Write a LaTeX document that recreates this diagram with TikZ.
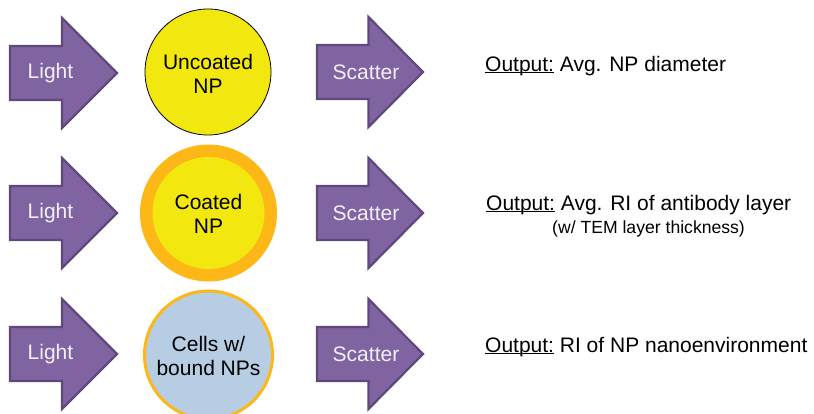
\documentclass[tikz,border=0pt]{standalone}
\usepackage{fontspec}
\setmainfont{Liberation Sans}
\definecolor{arrowfill}{HTML}{8064A2}
\definecolor{arrowline}{HTML}{5F497A}
\definecolor{arrowtxt}{HTML}{F4F0F8}
\definecolor{npyellow}{HTML}{F2E810}
\definecolor{coatorange}{HTML}{FDB717}
\definecolor{cellblue}{HTML}{B7CDE4}
\newcommand{\myul}[1]{\setbox0\hbox{#1}\rlap{\rule[-2.4pt]{\wd0}{1.3pt}}\box0\relax}
\tikzset{
  bigarrow/.style={fill=arrowfill, draw=arrowline, line width=2.2pt, line join=miter},
  arrowtext/.style={font=\fontsize{21}{24}\selectfont, text=arrowtxt, inner sep=0pt},
  circtext/.style={font=\fontsize{21}{23.5}\selectfont, align=center, inner sep=0pt},
  outtext/.style={font=\fontsize{21}{24}\selectfont, anchor=base west, inner sep=0pt},
  subtext/.style={font=\fontsize{17.6}{20}\selectfont, anchor=base west, inner sep=0pt},
}
\newcommand{\purplearrow}[3]{% left x, tip x, center y
  \pgfmathsetmacro{\hb}{#1+0.486*(#2-#1)}
  \fill[bigarrow] (#1,#3-27) -- (\hb,#3-27) -- (\hb,#3-55) -- (#2,#3) -- (\hb,#3+55) -- (\hb,#3+27) -- (#1,#3+27) -- cycle;
}
\begin{document}
\begin{tikzpicture}[x=1pt,y=-1pt]
\useasboundingbox (0,0) rectangle (814,413);
% row 1
\purplearrow{10}{117}{73}
\node[arrowtext] (l1) at (50.5,73) {Light};
\node[circle, draw=black, line width=0.8pt, fill=npyellow, minimum size=126pt] (c1) at (208,72) {};
\node[circtext] (t1) at (208,74) {Uncoated\\NP};
\purplearrow{317}{423}{72}
\node[arrowtext] (s1) at (366,72) {Scatter};
\node[outtext] (o1) at (485,71) {\myul{Output:} Avg. NP diameter};
% row 2
\purplearrow{10}{117}{213}
\node[arrowtext] (l2) at (50.5,213) {Light};
\node[circle, fill=coatorange, minimum size=137pt] (c2o) at (208.5,213) {};
\node[circle, fill=npyellow, minimum size=112pt] (c2) at (208.5,213) {};
\node[circtext] (t2) at (208.5,214) {Coated\\NP};
\purplearrow{317}{423}{213}
\node[arrowtext] (s2) at (366,213) {Scatter};
\node[outtext] (o2) at (486,210) {\myul{Output:} Avg. RI of antibody layer};
\node[subtext] (o2b) at (552,233) {(w/ TEM layer thickness)};
% row 3
\purplearrow{10}{117}{354}
\node[arrowtext] (l3) at (50.5,354) {Light};
\node[circle, draw=coatorange, line width=3pt, fill=cellblue, minimum size=128pt] (c3) at (208.5,355) {};
\node[circtext] (t3) at (208.5,356) {Cells w/\\bound NPs};
\purplearrow{317}{423}{354}
\node[arrowtext] (s3) at (366,354) {Scatter};
\node[outtext] (o3) at (485,352) {\myul{Output:} RI of NP nanoenvironment};
\end{tikzpicture}
\end{document}
